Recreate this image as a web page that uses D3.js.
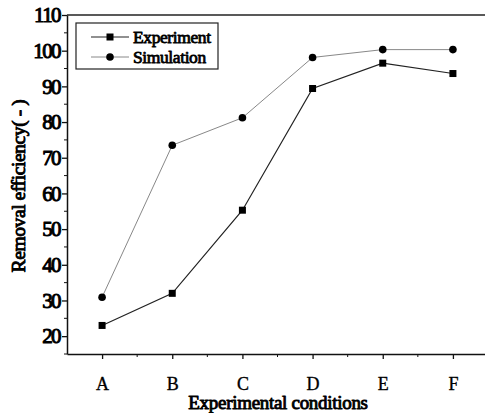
<!DOCTYPE html>
<html>
<head>
<meta charset="utf-8">
<script src="https://cdn.jsdelivr.net/npm/d3@7"></script>
<style>
  html, body { margin: 0; padding: 0; background: #fff; }
  svg { display: block; }
</style>
</head>
<body>
<svg id="chart" width="485" height="413"></svg>
<script>
// Experimental conditions and removal efficiencies
const categories = ["A", "B", "C", "D", "E", "F"];
const experiment = [23, 32, 55.3, 89.4, 96.5, 93.6];
const simulation = [30.9, 73.5, 81.2, 98.1, 100.3, 100.3];
const yTicks = [20, 30, 40, 50, 60, 70, 80, 90, 100, 110];
const seriesNames = ["Experiment", "Simulation"];

const serif = "'Liberation Serif', 'Times New Roman', serif";
// heavy serif lettering: regular face thickened with a thin outline
function heavy(sel, w) {
  sel.attr("font-family", serif).attr("font-weight", "normal")
    .attr("fill", "#000").attr("stroke", "#000").attr("stroke-width", w)
    .attr("stroke-linejoin", "round");
}
const svg = d3.select("#chart");
const plotLeft = 67, plotTop = 15, plotBottom = 354, plotRight = 488;

const x = d3.scaleLinear().domain([-0.5, categories.length - 0.5]).range([plotLeft, plotRight]);
const y = d3.scaleLinear().domain([15, 110]).range([plotBottom, plotTop]);

// frame: top border
svg.append("line").attr("x1", plotLeft).attr("x2", 485).attr("y1", plotTop).attr("y2", plotTop)
  .attr("stroke", "#222").attr("stroke-width", 1.5);

// y axis
const yAxis = svg.append("g").attr("transform", `translate(${plotLeft},0)`)
  .call(d3.axisLeft(y).tickValues(yTicks).tickSize(5).tickPadding(2).tickSizeOuter(0));
yAxis.attr("font-family", serif);
yAxis.select(".domain").attr("stroke", "#111").attr("stroke-width", 1.5);
yAxis.selectAll(".tick line").attr("stroke", "#111").attr("stroke-width", 1.3);
yAxis.selectAll("text").attr("font-size", 21).attr("letter-spacing", -1.6).call(heavy, 1);
// minor y ticks
svg.append("g").selectAll("line").data(d3.range(15, 110, 10)).join("line")
  .attr("x1", plotLeft - 3).attr("x2", plotLeft).attr("y1", d => y(d)).attr("y2", d => y(d))
  .attr("stroke", "#111").attr("stroke-width", 1);

// x axis
const xAxis = svg.append("g").attr("transform", `translate(0,${plotBottom})`)
  .call(d3.axisBottom(x).tickValues(d3.range(categories.length))
    .tickFormat(i => categories[i]).tickSize(5).tickPadding(18).tickSizeOuter(0));
xAxis.attr("font-family", serif);
xAxis.select(".domain").attr("stroke", "#111").attr("stroke-width", 1.5);
xAxis.selectAll(".tick line").attr("stroke", "#111").attr("stroke-width", 1.3);
xAxis.selectAll("text").attr("font-size", 18).call(heavy, 0.35);
// minor x ticks
svg.append("g").selectAll("line").data(d3.range(categories.length).map(i => i + 0.5)).join("line")
  .attr("x1", d => x(d)).attr("x2", d => x(d)).attr("y1", plotBottom).attr("y2", plotBottom + 3)
  .attr("stroke", "#111").attr("stroke-width", 1);

// axis titles
svg.append("text").attr("x", 278).attr("y", 409).attr("text-anchor", "middle")
  .attr("font-size", 19).attr("letter-spacing", -0.3).call(heavy, 0.9)
  .text("Experimental conditions");
svg.append("text").attr("transform", "translate(25,186) rotate(-90)").attr("text-anchor", "middle")
  .attr("font-size", 19.5).attr("letter-spacing", -0.4).call(heavy, 0.9)
  .text("Removal efficiency( - )");

const line = d3.line().x((d, i) => x(i)).y(d => y(d));

// simulation series (light line, circles)
svg.append("path").datum(simulation).attr("d", line)
  .attr("fill", "none").attr("stroke", "#888").attr("stroke-width", 1);
svg.append("g").selectAll("circle").data(simulation).join("circle")
  .attr("cx", (d, i) => x(i)).attr("cy", d => y(d)).attr("r", 3.8).attr("fill", "#000");

// experiment series (dark line, squares)
svg.append("path").datum(experiment).attr("d", line)
  .attr("fill", "none").attr("stroke", "#222").attr("stroke-width", 1.2);
svg.append("g").selectAll("rect").data(experiment).join("rect")
  .attr("x", (d, i) => x(i) - 3.5).attr("y", d => y(d) - 3.5)
  .attr("width", 7).attr("height", 7).attr("fill", "#000");

// legend
const lg = svg.append("g");
lg.append("rect").attr("x", 76).attr("y", 23).attr("width", 142).attr("height", 46)
  .attr("fill", "#fff").attr("stroke", "#222").attr("stroke-width", 1.2);
const rows = [37, 57];
seriesNames.forEach((name, k) => {
  const yy = rows[k];
  lg.append("line").attr("x1", 91).attr("x2", 129).attr("y1", yy).attr("y2", yy)
    .attr("stroke", k === 0 ? "#222" : "#888").attr("stroke-width", k === 0 ? 1.2 : 1);
  if (k === 0) {
    lg.append("rect").attr("x", 106.5).attr("y", yy - 3.5).attr("width", 7).attr("height", 7).attr("fill", "#000");
  } else {
    lg.append("circle").attr("cx", 110).attr("cy", yy).attr("r", 3.8).attr("fill", "#000");
  }
  lg.append("text").attr("x", 133).attr("y", yy + 5.5)
    .attr("font-size", 17.5).attr("letter-spacing", -0.4).call(heavy, 0.8).text(name);
});
</script>
</body>
</html>
